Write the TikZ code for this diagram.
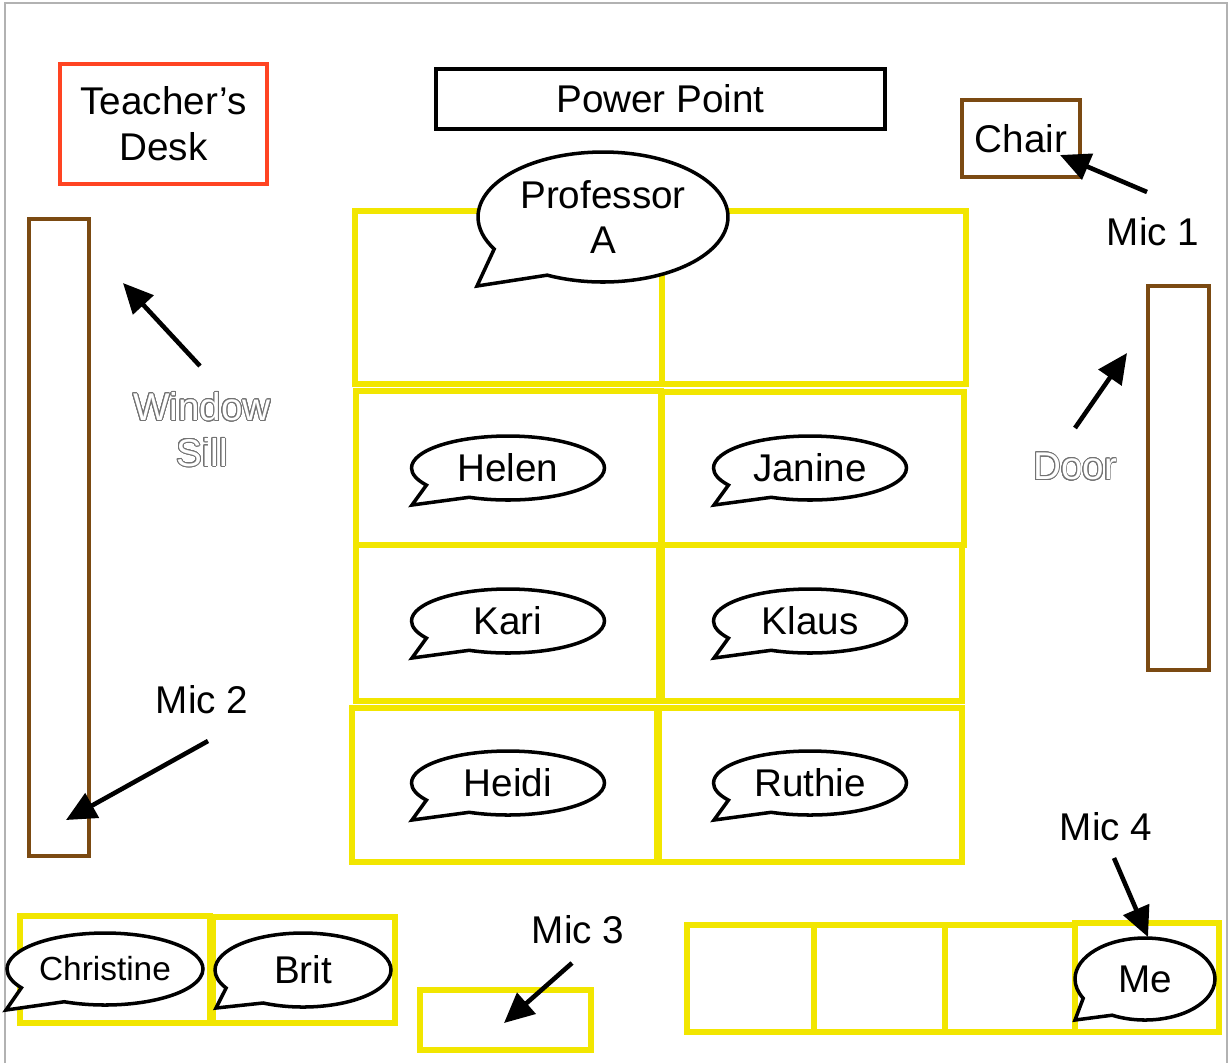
\documentclass[tikz,border=0pt]{standalone}
\usepackage{fontspec}
\setmainfont{Liberation Sans}
\usepackage[copies]{contour}
\usetikzlibrary{arrows.meta, shapes.callouts, positioning}

\definecolor{deskyellow}{RGB}{242,230,0}
\definecolor{woodbrown}{RGB}{123,74,18}
\definecolor{deskred}{RGB}{255,68,34}
\contourlength{0.5pt}
\contournumber{24}
\newcommand{\hollow}[1]{\contour{black!55}{\textcolor{white}{#1}}}

\begin{document}
\begin{tikzpicture}[x=0.02cm, y=-0.02cm, font=\fontsize{22}{26}\selectfont,
    desk/.style={draw=deskyellow, line width=3.2pt},
    wood/.style={draw=woodbrown, line width=2.8pt},
    bubble/.style={ellipse callout, draw, fill=white, line width=2pt, callout pointer arc=34, inner sep=0pt},
    seat/.style={bubble, minimum width=3.86cm, minimum height=1.28cm},
    arr/.style={-{Triangle[length=0.6cm, width=0.55cm]}, line width=2.6pt}]
        \useasboundingbox (0,0) rectangle (1230,1063);
        \draw[gray!60, line width=0.8pt] (5,1063) |- (1227,3) -- (1227,1063);

        \node[draw=deskred, line width=2.6pt, minimum width=4.14cm, minimum height=2.4cm, align=center] (desk) at (163.5,124) {Teacher’s\\Desk};
        \node[draw, line width=2.4pt, minimum width=8.98cm, minimum height=1.2cm] (ppt) at (660.5,99) {Power Point};
        \node[wood, minimum width=2.36cm, minimum height=1.54cm] (chair) at (1021,138.5) {Chair};
        \draw[wood] (29,219) rectangle (89,856);
        \draw[wood] (1148,286) rectangle (1209,670);

        \foreach \x/\y/\X/\Y in {355/211/662/384, 662/211/966/384, 356/391/661/545, 662/392/964/545,
            356/545/659/701, 662/545/962/701, 352/708/657/862, 659/708/962/862,
            20/916/210/1023, 213/917/395/1023, 420/990/591/1050,
            687/925/814/1032, 814/925/945/1032, 945/925/1075/1032, 1075/923/1219/1032}
            \draw[desk] (\x,\y) rectangle (\X,\Y);

        \node[bubble, minimum width=5cm, minimum height=2.6cm, align=center, callout absolute pointer={(477,286)}] (prof) at (603,217) {Professor\\A};
        \foreach \who/\x/\y in {Helen/508/468, Janine/810/468, Kari/508/621, Klaus/810/621, Heidi/508/783, Ruthie/810/783}
            \node[seat, callout absolute pointer={(\x-96,\y+37)}] (\who) at (\x,\y) {\who};
        \node[bubble, minimum width=3.92cm, minimum height=1.44cm, callout absolute pointer={(6,1010)}, font=\fontsize{19}{23}\selectfont] (christine) at (105,969) {Christine};
        \node[bubble, minimum width=3.52cm, minimum height=1.48cm, callout absolute pointer={(216,1008)}] (brit) at (303,970) {Brit};
        \node[bubble, minimum width=2.8cm, minimum height=1.64cm, callout absolute pointer={(1075,1020)}] (me) at (1145,979) {Me};

        \node (mic1) at (1153,232) {Mic 1};
        \node (mic2) at (202,700) {Mic 2};
        \node (mic3) at (578,930) {Mic 3};
        \node (mic4) at (1106,827) {Mic 4};
        \node[align=center] (sill) at (202,430) {\hollow{Window}\\\hollow{Sill}};
        \node (door) at (1075,467) {\hollow{Door}};

        \coordinate (m1a) at (1147,192); \coordinate (m1b) at (1060,155);
        \coordinate (sa) at (200,366);   \coordinate (sb) at (123,283);
        \coordinate (da) at (1075,428);  \coordinate (db) at (1127,353);
        \coordinate (m2a) at (208,741);  \coordinate (m2b) at (66,820);
        \coordinate (m3a) at (572,963);  \coordinate (m3b) at (504,1023);
        \coordinate (m4a) at (1114,858); \coordinate (m4b) at (1148,937);
        \draw[arr] (m1a) -- (m1b);
        \draw[arr] (sa) -- (sb);
        \draw[arr] (da) -- (db);
        \draw[arr] (m2a) -- (m2b);
        \draw[arr] (m3a) -- (m3b);
        \draw[arr] (m4a) -- (m4b);
    \end{tikzpicture}
\end{document}
